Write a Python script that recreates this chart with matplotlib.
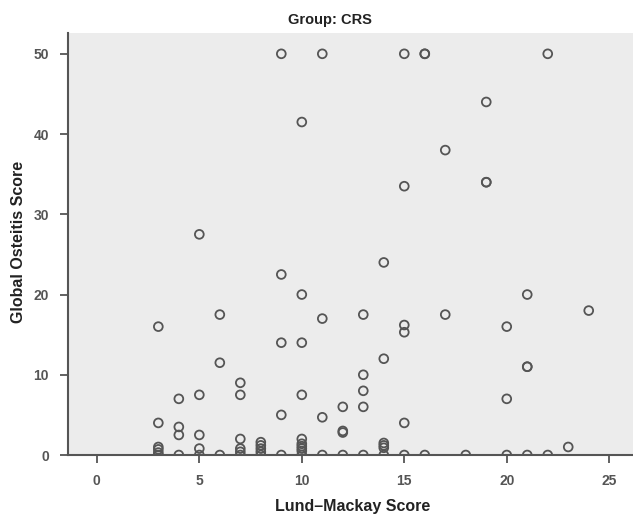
# Group CRS scatter - Lund-Mackay vs Global Osteitis score
import numpy as np
import matplotlib.pyplot as plt

lund_mackay = [3, 3, 3, 3, 3, 3,
               4, 4, 4, 4,
               5, 5, 5, 5, 5,
               6, 6, 6,
               7, 7, 7, 7, 7, 7,
               8, 8, 8, 8, 8,
               9, 9, 9, 9, 9,
               10, 10, 10, 10, 10, 10, 10, 10, 10, 10,
               11, 11, 11, 11,
               12, 12, 12, 12,
               13, 13, 13, 13, 13,
               14, 14, 14, 14, 14, 14,
               15, 15, 15, 15, 15, 15,
               16, 16, 16,
               17, 17,
               18,
               19, 19, 19,
               20, 20, 20,
               21, 21, 21, 21,
               22, 22,
               23,
               24]
osteitis = [16, 4, 1, 0.7, 0.3, 0,
            7, 3.5, 2.5, 0,
            27.5, 7.5, 2.5, 0.8, 0,
            17.5, 11.5, 0,
            9, 7.5, 2, 0.8, 0.4, 0,
            1.6, 1.2, 0.8, 0.4, 0,
            50, 22.5, 14, 5, 0,
            41.5, 20, 14, 7.5, 2, 1.4, 1.1, 0.8, 0.5, 0,
            50, 17, 4.7, 0,
            6, 3, 2.8, 0,
            17.5, 10, 8, 6, 0,
            24, 12, 1.5, 1.2, 0.9, 0,
            50, 33.5, 16.2, 15.3, 4, 0,
            50, 50, 0,
            38, 17.5,
            0,
            44, 34, 34,
            16, 7, 0,
            20, 11, 11, 0,
            50, 0,
            1,
            18]

x_ticks = [0, 5, 10, 15, 20, 25]
y_ticks = [0, 10, 20, 30, 40, 50]

fig = plt.figure(figsize=(6.33, 5.15), dpi=100)
ax = fig.add_axes([0.108, 0.1165, 0.892, 0.8195])
ax.set_facecolor('#ECECEC')

ax.scatter(lund_mackay, osteitis, s=40, facecolors='none', edgecolors='#555555', linewidths=1.3, zorder=3)

ax.set_xlim(-1.39, 26.16)
ax.set_ylim(0, 52.6)
ax.set_xticks(x_ticks)
ax.set_yticks(y_ticks)

for s in ['top', 'right']:
    ax.spines[s].set_visible(False)
for s in ['left', 'bottom']:
    ax.spines[s].set_color('#555555')
    ax.spines[s].set_linewidth(1.5)
    ax.spines[s].set_zorder(4)

ax.tick_params(direction='out', length=6, width=1.3, color='#555555', labelcolor='#555555', labelsize=10, pad=8)
for lab in ax.get_xticklabels() + ax.get_yticklabels():
    lab.set_fontweight('bold')
    lab.set_family('Liberation Sans')

ax.set_xlabel('Lund\u2013Mackay Score', fontsize=11.5, fontweight='bold', family='Liberation Sans', color='#222222', va='center')
ax.set_ylabel('Global Osteitis Score', fontsize=11.5, fontweight='bold', family='Liberation Sans', color='#222222', va='center')
ax.xaxis.set_label_coords(0.504, -0.123)
ax.yaxis.set_label_coords(-0.089, 0.505)

fig.text(330 / 633, 1 - 20 / 515, 'Group: CRS', ha='center', va='center', fontsize=10.5, fontweight='bold', family='Liberation Sans', color='#222222')

plt.savefig('out.png', dpi=100)
